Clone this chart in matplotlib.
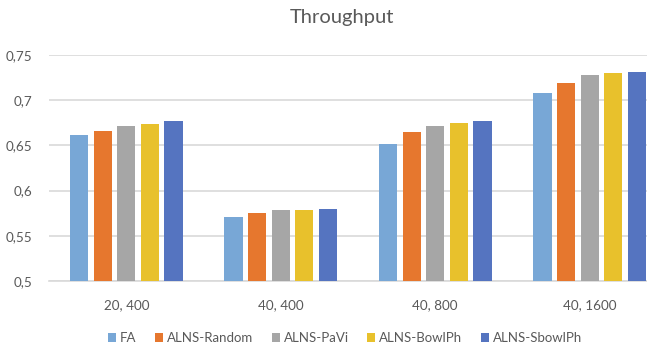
import matplotlib
matplotlib.use("Agg")
import matplotlib.pyplot as plt
import numpy as np

# chart data
categories = ["20, 400", "40, 400", "40, 800", "40, 1600"]
series_names = ["FA", "ALNS-Random", "ALNS-PaVi", "ALNS-BowlPh", "ALNS-SbowlPh"]
fa = [0.662, 0.571, 0.651, 0.708]
alns_random = [0.666, 0.575, 0.665, 0.719]
alns_pavi = [0.672, 0.578, 0.672, 0.728]
alns_bowlph = [0.674, 0.578, 0.675, 0.730]
alns_sbowlph = [0.677, 0.580, 0.677, 0.731]
yticks = [0.5, 0.55, 0.6, 0.65, 0.7, 0.75]
ytick_labels = ["0,5", "0,55", "0,6", "0,65", "0,7", "0,75"]

colors = ["#78A7D6", "#E6772E", "#A6A6A6", "#E8C12C", "#5574C0"]
text_col = "#595959"
grid_col = "#D9D9D9"

plt.rcParams["font.family"] = ["Lato", "DejaVu Sans"]

fig = plt.figure(figsize=(6.47, 3.53), dpi=100)
# plot area runs past the right edge, as in the cropped reference
ax = fig.add_axes([49 / 647, 1 - 281 / 353, 618 / 647, 226 / 353])

x = np.arange(len(categories))
pitch = 0.153
width = 0.117
all_series = [fa, alns_random, alns_pavi, alns_bowlph, alns_sbowlph]
for i, (vals, name) in enumerate(zip(all_series, series_names)):
    ax.bar(x + (i - 2) * pitch, vals, width, color=colors[i], label=name, zorder=3)

ax.set_xlim(-0.5, len(categories) - 0.5)
ax.set_ylim(0.5, 0.75)
ax.set_yticks(yticks)
ax.set_yticklabels(ytick_labels)
ax.set_xticks(x)
ax.set_xticklabels(categories)
ax.yaxis.grid(True, color=grid_col, linewidth=1.2, zorder=0)
for s in ["top", "right", "left"]:
    ax.spines[s].set_visible(False)
ax.spines["bottom"].set_color(grid_col)
ax.spines["bottom"].set_linewidth(1.2)
ax.tick_params(axis="both", length=0, colors=text_col, labelsize=9.7)
ax.tick_params(axis="y", pad=12)
ax.tick_params(axis="x", pad=13)

fig.text(342 / 647, 1 - 18 / 353, "Throughput", ha="center", va="center",
         fontsize=14.5, color=text_col)

fig.legend(loc="center", bbox_to_anchor=(345 / 647, 1 - 338 / 353), ncol=5,
           frameon=False, fontsize=9.5, labelcolor=text_col,
           handlelength=0.6, handleheight=0.6, handletextpad=0.3,
           columnspacing=1.4)

fig.savefig("out.png", dpi=100)
